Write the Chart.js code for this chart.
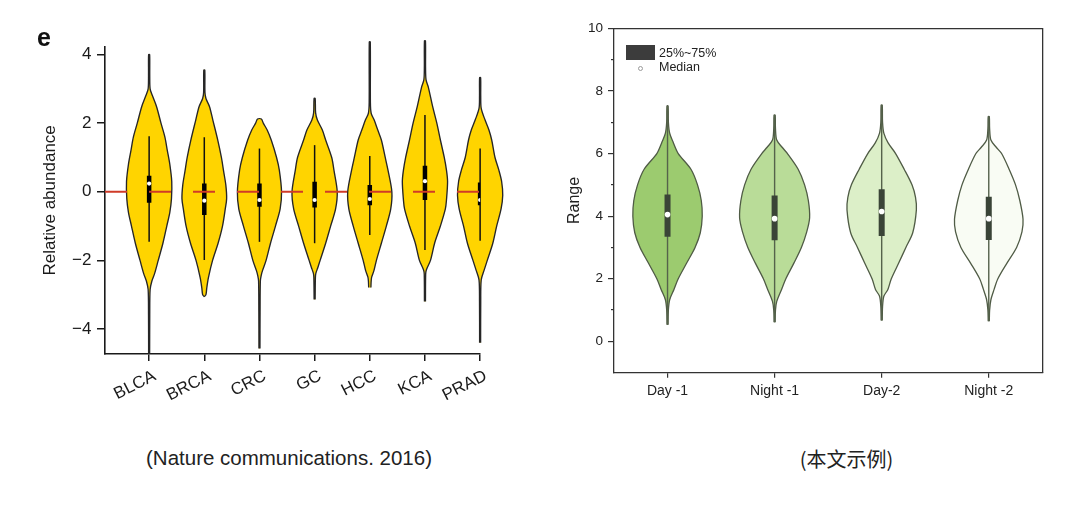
<!DOCTYPE html>
<html><head><meta charset="utf-8">
<script src="https://cdn.jsdelivr.net/npm/chart.js@4.4.1/dist/chart.umd.min.js"></script>
<style>
html,body{margin:0;padding:0;background:#fff;width:1080px;height:514px;overflow:hidden;position:relative;font-family:"Liberation Sans",Arial,Helvetica,sans-serif;}
canvas{position:absolute;top:0;}
#cL{left:0}
#cR{left:540px}
.t{position:absolute;white-space:nowrap;line-height:1;color:#222}
</style></head><body>
<canvas id="cL" width="540" height="440"></canvas>
<canvas id="cR" width="540" height="440"></canvas>
<div class="t" style="left:37px;top:25px;font-size:25px;font-weight:bold;color:#111">e</div>
<div class="t" style="left:289px;top:447.6px;font-size:20.5px;transform:translateX(-50%)">(Nature communications. 2016)</div>
<div class="t" style="left:846.5px;top:449px;font-size:20px;font-family:'Noto Sans CJK SC',sans-serif;transform:translateX(-50%)">(本文示例)</div>
<div style="position:absolute;left:626px;top:45px;width:29px;height:15px;background:#3c3c3c"></div>
<div class="t" style="left:659px;top:46.7px;font-size:12.5px">25%~75%</div>
<div style="position:absolute;left:637.5px;top:65.8px;width:3px;height:3px;border:1px solid #9a9a9a;border-radius:50%;background:#fff"></div>
<div class="t" style="left:659px;top:61.1px;font-size:12.5px">Median</div>
<script>
// ===== Left panel (Nature communications 2016) =====
const leftCategories = ['BLCA','BRCA','CRC','GC','HCC','KCA','PRAD'];
const leftYTicks = [-4,-2,0,2,4];
const leftRefValue = 0;
// violin outlines: [value, half-width] from bottom to top
const blcaProfile = [[-4.73,0.009],[-3.6,0.011],[-2.85,0.018],[-2.6,0.05],[-2.38,0.10],[-2,0.165],[-1.5,0.25],[-1,0.32],[-0.6,0.375],[-0.2,0.405],[0.3,0.41],[0.8,0.375],[1.2,0.33],[1.6,0.285],[2,0.215],[2.48,0.135],[2.82,0.055],[3.0,0.018],[3.4,0.011],[4.0,0.009]];
const brcaProfile = [[-3.06,0.0],[-3.0,0.03],[-2.8,0.045],[-2.5,0.075],[-2,0.15],[-1.5,0.25],[-1,0.33],[-0.5,0.38],[-0.2,0.405],[0.2,0.39],[0.6,0.35],[1,0.31],[1.5,0.245],[2.09,0.155],[2.48,0.095],[2.72,0.03],[2.9,0.012],[3.55,0.009]];
const crcProfile  = [[-4.57,0.009],[-3.5,0.011],[-2.6,0.016],[-2.45,0.03],[-2.3,0.055],[-2,0.12],[-1.5,0.2],[-1,0.29],[-0.5,0.375],[0,0.40],[0.63,0.36],[1,0.31],[1.5,0.215],[1.8,0.14],[2.0,0.07],[2.12,0.035]];
const gcProfile   = [[-3.14,0.009],[-2.5,0.014],[-2.38,0.022],[-2.2,0.06],[-2,0.10],[-1.5,0.2],[-1,0.29],[-0.5,0.38],[0,0.41],[0.63,0.35],[1,0.31],[1.51,0.2],[1.8,0.14],[2.09,0.05],[2.3,0.018],[2.72,0.01]];
const hccProfile  = [[-2.79,0.02],[-2.6,0.025],[-2.48,0.035],[-2.3,0.075],[-2,0.12],[-1.5,0.21],[-1,0.30],[-0.5,0.38],[0,0.40],[0.63,0.33],[1,0.28],[1.51,0.21],[1.8,0.145],[2.09,0.08],[2.29,0.025],[2.6,0.011],[4.37,0.009]];
const kcaProfile  = [[-3.2,0.009],[-2.4,0.013],[-2.28,0.025],[-2,0.10],[-1.5,0.175],[-1,0.28],[-0.5,0.37],[-0.24,0.39],[0.3,0.41],[0.63,0.39],[1,0.35],[1.51,0.28],[2,0.215],[2.48,0.14],[3.06,0.06],[3.26,0.02],[3.6,0.011],[4.4,0.009]];
const pradProfile = [[-4.4,0.009],[-3.2,0.011],[-2.57,0.02],[-2.3,0.07],[-2,0.13],[-1.5,0.23],[-1,0.30],[-0.5,0.38],[-0.1,0.41],[0.3,0.39],[0.63,0.34],[1,0.27],[1.51,0.21],[1.8,0.16],[2.09,0.09],[2.43,0.02],[2.8,0.011],[3.33,0.009]];
const leftProfiles = [blcaProfile, brcaProfile, crcProfile, gcProfile, hccProfile, kcaProfile, pradProfile];
const leftQ1          = [-0.32,-0.68,-0.44,-0.46,-0.39,-0.24,-0.39];
const leftMedian      = [ 0.24,-0.26,-0.24,-0.24,-0.21, 0.31,-0.24];
const leftQ3          = [ 0.47, 0.24, 0.24, 0.29, 0.20, 0.76, 0.27];
const leftWhiskerLow  = [-1.46,-1.99,-1.46,-1.50,-1.26,-1.70,-1.43];
const leftWhiskerHigh = [ 1.62, 1.59, 1.26, 1.36, 1.04, 2.24, 1.26];

// ===== Right panel (本文示例) =====
const rightCategories = ['Day -1','Night -1','Day-2','Night -2'];
const rightYTicks = [0,2,4,6,8,10];
const rightMinorTicks = [1,3,5,7,9];
const day1Profile   = [[0.53,0.005],[1.0,0.008],[1.33,0.02],[1.66,0.06],[2.0,0.10],[2.51,0.18],[3.0,0.257],[3.47,0.306],[4.0,0.324],[4.5,0.315],[5.0,0.28],[5.49,0.22],[6.0,0.10],[6.34,0.055],[6.65,0.02],[7.0,0.008],[7.52,0.005]];
const night1Profile = [[0.61,0.005],[1.0,0.008],[1.28,0.02],[1.66,0.065],[2.0,0.105],[2.5,0.18],[3.0,0.25],[3.5,0.30],[3.95,0.327],[4.5,0.315],[5.0,0.28],[5.5,0.22],[6.0,0.12],[6.2,0.07],[6.43,0.02],[6.8,0.008],[7.23,0.005]];
const day2Profile   = [[0.67,0.005],[1.1,0.008],[1.44,0.02],[1.66,0.058],[2.0,0.09],[2.51,0.16],[3.0,0.226],[3.47,0.29],[4.2,0.324],[4.6,0.316],[5.0,0.283],[5.5,0.21],[6.0,0.13],[6.34,0.06],[6.65,0.02],[7.0,0.008],[7.55,0.005]];
const night2Profile = [[0.64,0.005],[1.0,0.008],[1.33,0.02],[1.66,0.05],[2.0,0.085],[2.5,0.17],[3.0,0.26],[3.5,0.31],[3.9,0.32],[4.5,0.29],[5.0,0.25],[5.5,0.19],[6.0,0.12],[6.2,0.07],[6.43,0.02],[6.8,0.008],[7.18,0.005]];
const rightProfiles = [day1Profile, night1Profile, day2Profile, night2Profile];
const rightQ1     = [3.34,3.23,3.37,3.24];
const rightMedian = [4.05,3.92,4.15,3.92];
const rightQ3     = [4.69,4.66,4.86,4.62];
const rightLineLow  = [0.53,0.61,0.67,0.64];
const rightLineHigh = [7.52,7.23,7.55,7.18];
const rightFills = ['#9ccb6f','#b9dc98','#dcefc8','#f9fcf4'];

Chart.defaults.font.family = '"Liberation Sans", Arial, Helvetica, sans-serif';
Chart.defaults.color = '#222';

function violinPoints(center, profile) {
  const left = profile.map(([v, w]) => ({x: center - w, y: v}));
  const right = profile.slice().reverse().map(([v, w]) => ({x: center + w, y: v}));
  return left.concat(right);
}
const fixTicks = (list) => (s) => { s.ticks = list.map(v => ({value: v})); };

// ---- left datasets ----
const leftDatasets = [];
leftProfiles.forEach((p, i) => {
  leftDatasets.push({data: violinPoints(i, p), fill: 'shape', backgroundColor: '#ffd400', borderColor: '#262626', borderWidth: 1.35, tension: 0.3, pointRadius: 0, order: 4, clip: false});
  leftDatasets.push({data: [{x: i, y: leftWhiskerLow[i]}, {x: i, y: leftWhiskerHigh[i]}], borderColor: '#111', borderWidth: 1.5, pointRadius: 0, fill: false, order: 3, clip: false});
  leftDatasets.push({data: [{x: i, y: leftQ1[i]}, {x: i, y: leftQ3[i]}], borderColor: '#000', borderWidth: 4.5, borderCapStyle: 'butt', pointRadius: 0, fill: false, order: 2});
});
leftDatasets.push({data: leftMedian.map((m, i) => ({x: i, y: m})), showLine: false, pointRadius: 2.1, pointBackgroundColor: '#fff', pointBorderWidth: 0, order: 1});
leftDatasets.push({data: [{x: -0.8, y: leftRefValue}, {x: leftCategories.length - 1, y: leftRefValue}], borderColor: '#cf3b28', borderWidth: 2, borderDash: [22, 22], pointRadius: 0, fill: false, order: 0, clip: false});

const spineEnd = {
  id: 'spineEnd',
  afterLayout(chart) { const s = chart.scales.x; s.right = s.getPixelForValue(leftCategories.length - 1); }
};

new Chart(document.getElementById('cL'), {
  type: 'line',
  data: {datasets: leftDatasets},
  plugins: [spineEnd],
  options: {
    responsive: false, animation: false,
    layout: {padding: {left: 0, top: 46.7, right: 32.3, bottom: 16}},
    elements: {line: {capBezierPoints: false}, point: {hitRadius: 0}},
    plugins: {legend: {display: false}, tooltip: {enabled: false}},
    scales: {
      x: {type: 'linear', min: -0.8, max: 6.5,
        afterFit: s => { s.height = 70; },
        afterBuildTicks: fixTicks(leftCategories.map((_, i) => i)),
        ticks: {callback: v => leftCategories[v], autoSkip: false, minRotation: 27, maxRotation: 27, labelOffset: 5.6, padding: 5, font: {size: 17}, color: '#1a1a1a'},
        grid: {drawOnChartArea: false, drawTicks: true, tickLength: 7, color: '#1a1a1a', lineWidth: 1.5},
        border: {display: true, color: '#1a1a1a', width: 1.6}},
      y: {type: 'linear', min: -4.73, max: 4.23,
        afterFit: s => { s.width = 105; },
        afterBuildTicks: fixTicks(leftYTicks),
        ticks: {callback: v => String(v).replace('-', '\u2212'), font: {size: 17}, padding: 5.5, color: '#1a1a1a'},
        grid: {drawOnChartArea: false, tickLength: 8, color: '#1a1a1a', lineWidth: 1.5},
        border: {display: true, color: '#1a1a1a', width: 1.6},
        title: {display: true, text: 'Relative abundance', font: {size: 17}, padding: {top: 40.5, bottom: 0}, color: '#1a1a1a'}}
    }
  }
});

// ---- right datasets ----
const rightDatasets = [];
rightProfiles.forEach((p, i) => {
  rightDatasets.push({data: violinPoints(i, p), fill: 'shape', backgroundColor: rightFills[i], borderColor: '#4f5b45', borderWidth: 1.3, tension: 0.3, pointRadius: 0, order: 4, clip: false, xAxisID: 'x', yAxisID: 'y'});
  rightDatasets.push({data: [{x: i, y: rightLineLow[i]}, {x: i, y: rightLineHigh[i]}], borderColor: '#55624b', borderWidth: 1.4, pointRadius: 0, fill: false, order: 3, xAxisID: 'x', yAxisID: 'y'});
  rightDatasets.push({data: [{x: i, y: rightQ1[i]}, {x: i, y: rightQ3[i]}], borderColor: '#3a4437', borderWidth: 6, borderCapStyle: 'butt', pointRadius: 0, fill: false, order: 2, xAxisID: 'x', yAxisID: 'y'});
});
rightDatasets.push({data: rightMedian.map((m, i) => ({x: i, y: m})), showLine: false, pointRadius: 2.8, pointBackgroundColor: '#fff', pointBorderWidth: 0, order: 1, xAxisID: 'x', yAxisID: 'y'});

const frameAxis = {ticks: {display: false}, grid: {drawOnChartArea: false, drawTicks: false}, border: {display: true, color: '#333', width: 1.3}};

new Chart(document.getElementById('cR'), {
  type: 'line',
  data: {datasets: rightDatasets},
  options: {
    responsive: false, animation: false,
    layout: {padding: {left: 0, top: 28.3, right: 37.7, bottom: 17.3}},
    elements: {line: {capBezierPoints: false}, point: {hitRadius: 0}},
    plugins: {legend: {display: false}, tooltip: {enabled: false}},
    scales: {
      x: {type: 'linear', axis: 'x', position: 'bottom', min: -0.5, max: 3.5,
        afterFit: s => { s.height = 50; },
        afterBuildTicks: fixTicks(rightCategories.map((_, i) => i)),
        ticks: {callback: v => rightCategories[v], autoSkip: false, minRotation: 0, maxRotation: 0, padding: 5, font: {size: 14}, color: '#222'},
        grid: {drawOnChartArea: false, tickLength: 5, color: '#333', lineWidth: 1.2},
        border: {display: true, color: '#333', width: 1.3}},
      xTop: Object.assign({type: 'linear', axis: 'x', position: 'top', min: -0.5, max: 3.5, afterFit: s => { s.height = 0; }}, frameAxis),
      y: {type: 'linear', axis: 'y', position: 'left', weight: 1, min: -1, max: 10,
        afterFit: s => { s.width = 74; },
        afterBuildTicks: fixTicks(rightYTicks),
        ticks: {font: {size: 13.5}, padding: 5, color: '#222'},
        grid: {drawOnChartArea: false, tickLength: 6, color: '#333', lineWidth: 1.2},
        border: {display: true, color: '#333', width: 1.3},
        title: {display: true, text: 'Range', font: {size: 16}, padding: {top: 25, bottom: 0}, color: '#222'}},
      yMinor: {type: 'linear', axis: 'y', position: 'left', weight: 0, min: -1, max: 10,
        afterFit: s => { s.width = 0; },
        afterBuildTicks: fixTicks(rightMinorTicks),
        ticks: {display: false},
        grid: {drawOnChartArea: false, tickLength: 3, color: '#333', lineWidth: 1.2},
        border: {display: false}},
      yRight: Object.assign({type: 'linear', axis: 'y', position: 'right', min: -1, max: 10, afterFit: s => { s.width = 0; }}, frameAxis)
    }
  }
});
</script>
</body></html>
